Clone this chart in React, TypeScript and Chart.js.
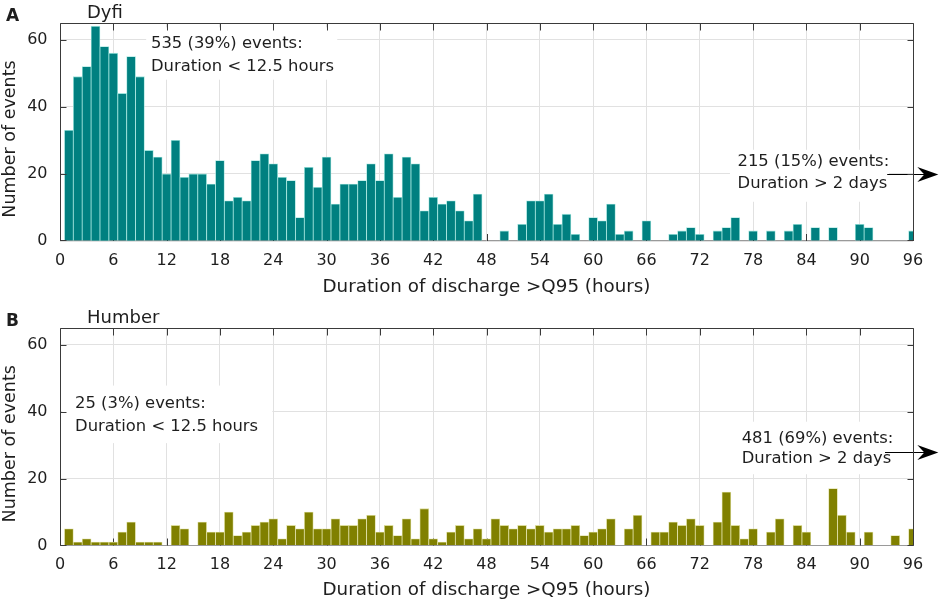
import { useEffect, useRef } from 'react';
import { Chart, registerables, type Plugin } from 'chart.js';

Chart.register(...registerables);

// hourly bins (bar centres)
const hours = [
  1, 2, 3, 4, 5, 6, 7, 8, 9, 10, 11, 12,
  13, 14, 15, 16, 17, 18, 19, 20, 21, 22, 23, 24,
  25, 26, 27, 28, 29, 30, 31, 32, 33, 34, 35, 36,
  37, 38, 39, 40, 41, 42, 43, 44, 45, 46, 47, 48,
  49, 50, 51, 52, 53, 54, 55, 56, 57, 58, 59, 60,
  61, 62, 63, 64, 65, 66, 67, 68, 69, 70, 71, 72,
  73, 74, 75, 76, 77, 78, 79, 80, 81, 82, 83, 84,
  85, 86, 87, 88, 89, 90, 91, 92, 93, 94, 95, 96,
];

const dyfiCounts = [
  33, 49, 52, 64, 58, 56, 44, 55, 49, 27, 25, 20,
  30, 19, 20, 20, 17, 24, 12, 13, 12, 24, 26, 23,
  19, 18, 7, 22, 16, 25, 11, 17, 17, 18, 23, 18,
  26, 13, 25, 23, 9, 13, 11, 12, 9, 6, 14, 0,
  0, 3, 0, 5, 12, 12, 14, 5, 8, 2, 0, 7,
  6, 11, 2, 3, 0, 6, 0, 0, 2, 3, 4, 2,
  0, 3, 4, 7, 0, 3, 0, 3, 0, 3, 5, 0,
  4, 0, 4, 0, 0, 5, 4, 0, 0, 0, 0, 3,
];

const humberCounts = [
  5, 1, 2, 1, 1, 1, 4, 7, 1, 1, 1, 0,
  6, 5, 0, 7, 4, 4, 10, 3, 4, 6, 7, 8,
  2, 6, 5, 10, 5, 5, 8, 6, 6, 8, 9, 4,
  6, 3, 8, 2, 11, 2, 1, 4, 6, 2, 5, 2,
  8, 6, 5, 6, 5, 6, 4, 5, 5, 6, 3, 4,
  5, 8, 0, 5, 9, 0, 4, 4, 7, 6, 8, 6,
  0, 7, 16, 6, 2, 5, 0, 4, 8, 0, 6, 4,
  0, 0, 17, 9, 4, 0, 4, 0, 0, 3, 0, 5,
];

const hourTicks = [0, 6, 12, 18, 24, 30, 36, 42, 48, 54, 60, 66, 72, 78, 84, 90, 96];
const countTicks = [0, 20, 40, 60];

const dyfiShort = ['535 (39%) events:', 'Duration < 12.5 hours'];
const dyfiLong = ['215 (15%) events:', 'Duration > 2 days'];
const humberShort = ['25 (3%) events:', 'Duration < 12.5 hours'];
const humberLong = ['481 (69%) events:', 'Duration > 2 days'];

const X_TITLE = 'Duration of discharge >Q95 (hours)';
const Y_TITLE = 'Number of events';

const FONT = '"DejaVu Sans", "Liberation Sans", sans-serif';
const TEXT = '#1e1e1e';
const AXIS = '#3a3a3a';
const GRID = '#e1e1e1';

interface Note {
  lines: string[];
  x: number;
  y: number[];
  box: [number, number, number, number];
  arrow?: { y: number; from: number; to: number };
}

interface PanelProps {
  letter: string;
  title: string;
  counts: number[];
  fill: string;
  edge: string;
  notes: Note[];
  padTop: number;
  axisHeight: number;
  titlePad: number;
  headY: number;
}

const crisp = (v: number) => Math.round(v) + 0.5;

function framePlugin(letter: string, title: string, headY: number): Plugin<'bar'> {
  return {
    id: 'frame',
    beforeDatasetsDraw(chart) {
      const { ctx, chartArea: a } = chart;
      const x = chart.scales.x;
      ctx.save();
      ctx.lineWidth = 1;
      ctx.strokeStyle = '#9a9a9a';
      ctx.beginPath();
      ctx.moveTo(a.left, crisp(a.bottom) - 1);
      ctx.lineTo(a.right, crisp(a.bottom) - 1);
      ctx.stroke();
      ctx.strokeStyle = AXIS;
      ctx.beginPath();
      for (const t of x.ticks) {
        const px = crisp(x.getPixelForValue(t.value));
        ctx.moveTo(px, a.bottom);
        ctx.lineTo(px, a.bottom - 7);
      }
      ctx.stroke();
      ctx.restore();
    },
    afterDraw(chart) {
      const { ctx, chartArea: a } = chart;
      const { x, y } = chart.scales;
      const l = crisp(a.left), r = crisp(a.right), t = crisp(a.top);
      ctx.save();
      ctx.lineWidth = 1;
      ctx.strokeStyle = AXIS;
      ctx.beginPath();
      ctx.moveTo(l, a.bottom);
      ctx.lineTo(l, t);
      ctx.lineTo(r, t);
      ctx.lineTo(r, a.bottom);
      for (const tk of x.ticks) {
        const px = crisp(x.getPixelForValue(tk.value));
        ctx.moveTo(px, t);
        ctx.lineTo(px, t + 7);
      }
      for (const tk of y.ticks) {
        const py = crisp(y.getPixelForValue(tk.value)) - (tk.value === 0 ? 1 : 0);
        ctx.moveTo(l, py);
        ctx.lineTo(l + 6, py);
        ctx.moveTo(r, py);
        ctx.lineTo(r - 6, py);
      }
      ctx.stroke();

      ctx.fillStyle = TEXT;
      ctx.textAlign = 'left';
      ctx.textBaseline = 'alphabetic';
      ctx.font = `bold 17px ${FONT}`;
      ctx.fillText(letter, 6, headY + 3);
      ctx.font = `18px ${FONT}`;
      ctx.fillText(title, 87, headY);

      // y label, centred a little below the middle of the axis as in the figure
      ctx.translate(10.5, (a.top + a.bottom) / 2 + 7);
      ctx.rotate(-Math.PI / 2);
      ctx.textAlign = 'center';
      ctx.textBaseline = 'middle';
      ctx.font = `17.5px ${FONT}`;
      ctx.fillText(Y_TITLE, 0, 0);
      ctx.restore();
    },
  };
}

function notesPlugin(notes: Note[]): Plugin<'bar'> {
  return {
    id: 'notes',
    afterDatasetsDraw(chart) {
      const { ctx } = chart;
      const { x, y } = chart.scales;
      ctx.save();
      for (const n of notes) {
        const [x0, x1, y0, y1] = n.box;
        const bl = x.getPixelForValue(x0);
        const br = x.getPixelForValue(x1);
        const bt = y.getPixelForValue(y0);
        const bb = y.getPixelForValue(y1);
        ctx.fillStyle = '#ffffff';
        ctx.fillRect(bl, bt, br - bl, bb - bt);

        if (n.arrow) {
          const ay = crisp(y.getPixelForValue(n.arrow.y));
          const from = x.getPixelForValue(n.arrow.from);
          const tip = x.getPixelForValue(n.arrow.to);
          ctx.strokeStyle = '#000';
          ctx.fillStyle = '#000';
          ctx.lineWidth = 1;
          ctx.beginPath();
          ctx.moveTo(from, ay);
          ctx.lineTo(tip - 10, ay);
          ctx.stroke();
          ctx.beginPath();
          ctx.moveTo(tip, ay);
          ctx.lineTo(tip - 21, ay - 7.5);
          ctx.lineTo(tip - 14, ay);
          ctx.lineTo(tip - 21, ay + 7.5);
          ctx.closePath();
          ctx.fill();
        }

        ctx.fillStyle = TEXT;
        ctx.font = `16.4px ${FONT}`;
        ctx.textAlign = 'left';
        ctx.textBaseline = 'middle';
        n.lines.forEach((s, i) => {
          ctx.fillText(s, x.getPixelForValue(n.x), y.getPixelForValue(n.y[i]));
        });
      }
      ctx.restore();
    },
  };
}

function Panel({ letter, title, counts, fill, edge, notes, padTop, axisHeight, titlePad, headY }: PanelProps) {
  const canvasRef = useRef<HTMLCanvasElement>(null);
  const chartRef = useRef<Chart | null>(null);

  useEffect(() => {
    if (!canvasRef.current) return;
    if (chartRef.current) chartRef.current.destroy();

    chartRef.current = new Chart(canvasRef.current, {
      type: 'bar',
      data: {
        datasets: [
          {
            data: hours.map((h, i) => ({ x: h, y: counts[i] })),
            backgroundColor: fill,
            borderColor: edge,
            borderWidth: 0.8,
            barPercentage: 1,
            categoryPercentage: 1,
            clip: 0,
          },
        ],
      },
      options: {
        responsive: false,
        animation: false,
        events: [],
        layout: { padding: { top: padTop, right: 28, left: 0, bottom: 0 } },
        plugins: { legend: { display: false }, tooltip: { enabled: false } },
        scales: {
          x: {
            type: 'linear',
            min: 0,
            max: 96,
            offset: false,
            afterBuildTicks: (s) => {
              s.ticks = hourTicks.map((v) => ({ value: v }));
            },
            afterFit: (s) => {
              s.height = axisHeight;
            },
            grid: { color: GRID, drawTicks: false, offset: false },
            border: { display: false },
            ticks: {
              padding: 10,
              color: TEXT,
              font: { family: FONT, size: 16 },
              maxRotation: 0,
              autoSkip: false,
            },
            title: {
              display: true,
              text: X_TITLE,
              color: TEXT,
              font: { family: FONT, size: 18.3 },
              padding: { top: 0, bottom: titlePad },
            },
          },
          y: {
            min: 0,
            max: 65,
            afterBuildTicks: (s) => {
              s.ticks = countTicks.map((v) => ({ value: v }));
            },
            afterFit: (s) => {
              s.width = 60;
            },
            grid: { color: GRID, drawTicks: false },
            border: { display: false },
            ticks: {
              padding: 12.5,
              color: TEXT,
              font: { family: FONT, size: 16 },
            },
          },
        },
      },
      plugins: [framePlugin(letter, title, headY), notesPlugin(notes)],
    });

    return () => {
      if (chartRef.current) {
        chartRef.current.destroy();
        chartRef.current = null;
      }
    };
  }, [letter, title, counts, fill, edge, notes, padTop, axisHeight, titlePad, headY]);

  return (
    <canvas
      ref={canvasRef}
      width={941}
      height={302}
      style={{ display: 'block', width: 941, height: 302 }}
    />
  );
}

const dyfiNotes: Note[] = [
  { lines: dyfiShort, x: 10.24, y: [58.8, 51.9], box: [9.7, 31.2, 63.7, 48.1] },
  {
    lines: dyfiLong,
    x: 76.25,
    y: [23.5, 17.0],
    box: [75.4, 93.3, 27.2, 11.7],
    arrow: { y: 20, from: 93.1, to: 98.85 },
  },
];

const humberNotes: Note[] = [
  { lines: humberShort, x: 1.69, y: [42.5, 35.6], box: [0.25, 23.9, 47.8, 30.6] },
  {
    lines: humberLong,
    x: 76.72,
    y: [32.05, 25.8],
    box: [76.0, 93.4, 37.0, 21.3],
    arrow: { y: 28, from: 92.85, to: 98.85 },
  },
];

export default function App() {
  return (
    <div style={{ position: 'absolute', left: 0, top: 0, width: 941, height: 604, background: '#fff' }}>
      <Panel
        letter="A"
        title="Dyfi"
        counts={dyfiCounts}
        fill="#008080"
        edge="#9fe3dc"
        notes={dyfiNotes}
        padTop={23}
        axisHeight={61}
        titlePad={4}
        headY={17.5}
      />
      <Panel
        letter="B"
        title="Humber"
        counts={humberCounts}
        fill="#808000"
        edge="#dcdc9c"
        notes={humberNotes}
        padTop={26}
        axisHeight={58.5}
        titlePad={3}
        headY={20.7}
      />
    </div>
  );
}
